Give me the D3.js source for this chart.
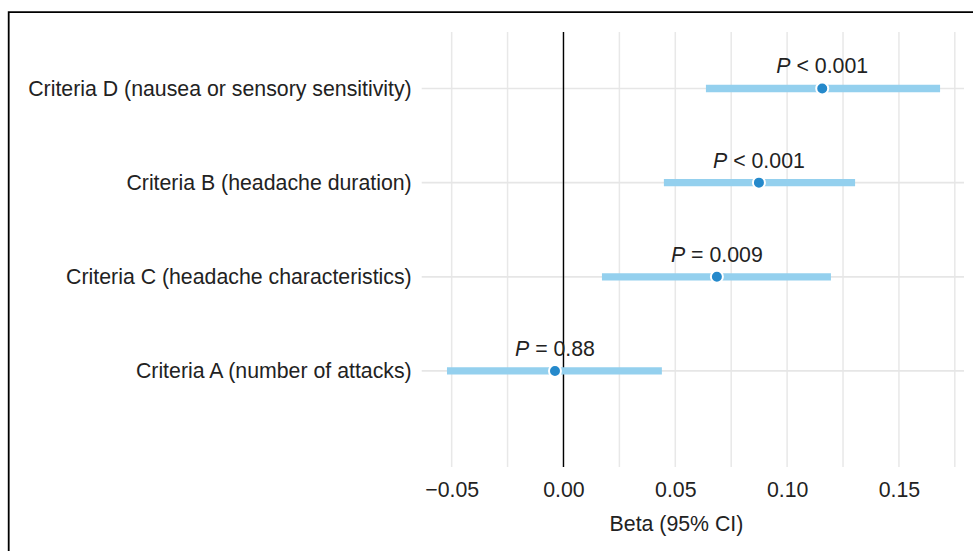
<!DOCTYPE html>
<html>
<head>
<meta charset="utf-8">
<script src="https://cdn.jsdelivr.net/npm/d3@7"></script>
<style>
  html, body { margin: 0; padding: 0; background: #fff; }
  svg { display: block; }
</style>
</head>
<body>
<div id="forest"></div>
<script>
(function () {

var width = 973;
var height = 551;

// rows listed bottom to top
var criteria = [
  "Criteria A (number of attacks)",
  "Criteria C (headache characteristics)",
  "Criteria B (headache duration)",
  "Criteria D (nausea or sensory sensitivity)"
];
var beta = [-0.0038, 0.0686, 0.0874, 0.1157];
var ciLow = [-0.0521, 0.0172, 0.0449, 0.0637];
var ciHigh = [0.0440, 0.1196, 0.1304, 0.1684];
var pSign = ["=", "=", "<", "<"];
var pValue = ["0.88", "0.009", "0.001", "0.001"];

var xTicks = [-0.05, 0, 0.05, 0.10, 0.15];
var xMinor = [-0.025, 0.025, 0.075, 0.125, 0.175];

var panel = { left: 421.7, right: 964, top: 32, bottom: 467 };

var font = "'Liberation Sans', Arial, Helvetica, sans-serif";
var fontSize = "21.3px";

var svg = d3.select("#forest")
  .append("svg")
  .attr("width", width)
  .attr("height", height);

// outer frame (open to the right and bottom)
svg.append("path")
  .attr("d", "M8.7,560V12.2H990")
  .style("fill", "none")
  .style("stroke", "#000")
  .style("stroke-width", 1.8);

var x = d3.scaleLinear()
  .domain([-0.0634, 0.1791])
  .range([panel.left, panel.right]);

var y = d3.scaleLinear()
  .domain([-1.02, 3.6])
  .range([panel.bottom, panel.top]);

var g = svg.append("g");

// vertical grid, major + minor
g.selectAll("line.vgrid")
  .data(xTicks.concat(xMinor))
  .enter().append("line")
  .attr("class", "vgrid")
  .attr("x1", function(d) { return x(d); })
  .attr("x2", function(d) { return x(d); })
  .attr("y1", panel.top)
  .attr("y2", panel.bottom)
  .style("stroke", "#e8e8e8")
  .style("stroke-width", 1.5);

// horizontal grid at each row
g.selectAll("line.hgrid")
  .data(criteria)
  .enter().append("line")
  .attr("class", "hgrid")
  .attr("x1", panel.left)
  .attr("x2", panel.right)
  .attr("y1", function(d, i) { return y(i); })
  .attr("y2", function(d, i) { return y(i); })
  .style("stroke", "#e6e6e6")
  .style("stroke-width", 1.7);

// zero reference line
g.append("line")
  .attr("x1", x(0))
  .attr("x2", x(0))
  .attr("y1", panel.top)
  .attr("y2", panel.bottom)
  .style("stroke", "#000")
  .style("stroke-width", 1.4);

// confidence intervals
g.selectAll("line.ci")
  .data(criteria)
  .enter().append("line")
  .attr("class", "ci")
  .attr("x1", function(d, i) { return x(ciLow[i]); })
  .attr("x2", function(d, i) { return x(ciHigh[i]); })
  .attr("y1", function(d, i) { return y(i); })
  .attr("y2", function(d, i) { return y(i); })
  .style("stroke", "#94d0ee")
  .style("stroke-width", 7.3);

// point estimates
g.selectAll("circle.est")
  .data(criteria)
  .enter().append("circle")
  .attr("class", "est")
  .attr("cx", function(d, i) { return x(beta[i]); })
  .attr("cy", function(d, i) { return y(i); })
  .attr("r", 6)
  .style("fill", "#2589cb")
  .style("stroke", "#fff")
  .style("stroke-width", 2);

// P value labels
var plab = g.selectAll("text.pval")
  .data(criteria)
  .enter().append("text")
  .attr("class", "pval")
  .attr("x", function(d, i) { return x(beta[i]); })
  .attr("y", function(d, i) { return y(i) - 15; })
  .attr("text-anchor", "middle")
  .style("font-family", font)
  .style("font-size", fontSize)
  .style("fill", "#222");
plab.append("tspan").style("font-style", "italic").text("P");
plab.append("tspan").text(function(d, i) { return " " + pSign[i] + " " + pValue[i]; });

// x axis
var xAxis = g.append("g")
  .attr("transform", "translate(0," + panel.bottom + ")")
  .call(d3.axisBottom(x).tickValues(xTicks).tickFormat(d3.format(".2f")).tickSize(0).tickPadding(15));
xAxis.select(".domain").remove();
xAxis.selectAll("text")
  .style("font-family", font)
  .style("font-size", fontSize)
  .style("fill", "#222");

// y axis (row labels)
var yAxis = g.append("g")
  .attr("transform", "translate(" + panel.left + ",0)")
  .call(d3.axisLeft(y).tickValues(d3.range(criteria.length)).tickFormat(function(i) { return criteria[i]; }).tickSize(0).tickPadding(10));
yAxis.select(".domain").remove();
yAxis.selectAll("text")
  .style("font-family", font)
  .style("font-size", fontSize)
  .style("fill", "#222");

// x axis title
g.append("text")
  .attr("x", 676.5)
  .attr("y", 531)
  .attr("text-anchor", "middle")
  .style("font-family", font)
  .style("font-size", fontSize)
  .style("fill", "#222")
  .text("Beta (95% CI)");

})();
</script>
</body>
</html>
